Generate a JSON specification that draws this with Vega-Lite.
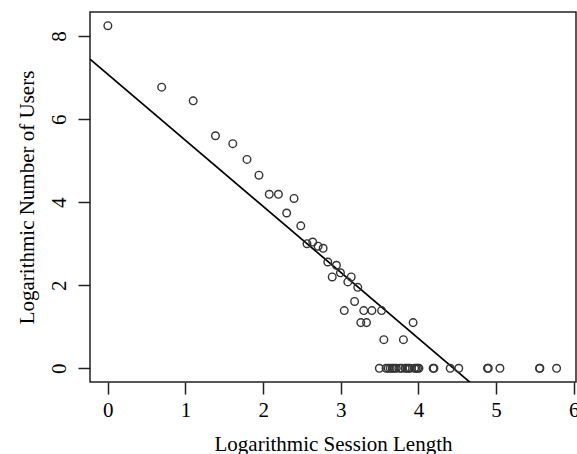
{
  "$schema": "https://vega.github.io/schema/vega-lite/v6.json",
  "autosize": {"type": "none"},
  "width": 486,
  "height": 370,
  "padding": {"left": 90, "top": 12, "right": 1, "bottom": 72},
  "background": "white",
  "config": {
    "view": {"stroke": "#222", "strokeWidth": 1.5},
    "font": "Liberation Serif",
    "axis": {
      "grid": false,
      "domain": false,
      "tickColor": "#222",
      "tickWidth": 1.5,
      "tickSize": 12,
      "labelFont": "Liberation Serif",
      "titleFont": "Liberation Serif",
      "labelFontSize": 21,
      "titleFontSize": 21,
      "labelColor": "black",
      "titleColor": "black",
      "titleFontWeight": "normal"
    }
  },
  "datasets": {
    "pts": [
      {"x": 0, "y": 8.25}, {"x": 0.693, "y": 6.77}, {"x": 1.099, "y": 6.44},
      {"x": 1.386, "y": 5.6}, {"x": 1.609, "y": 5.41}, {"x": 1.792, "y": 5.03},
      {"x": 1.946, "y": 4.65}, {"x": 2.079, "y": 4.19}, {"x": 2.197, "y": 4.19},
      {"x": 2.303, "y": 3.74}, {"x": 2.398, "y": 4.09}, {"x": 2.485, "y": 3.43},
      {"x": 2.565, "y": 3.0}, {"x": 2.639, "y": 3.04}, {"x": 2.708, "y": 2.94},
      {"x": 2.773, "y": 2.89}, {"x": 2.833, "y": 2.56}, {"x": 2.89, "y": 2.2},
      {"x": 2.944, "y": 2.48}, {"x": 2.996, "y": 2.3}, {"x": 3.045, "y": 1.39},
      {"x": 3.091, "y": 2.08}, {"x": 3.135, "y": 2.2}, {"x": 3.178, "y": 1.61},
      {"x": 3.219, "y": 1.95}, {"x": 3.258, "y": 1.1}, {"x": 3.296, "y": 1.39},
      {"x": 3.332, "y": 1.1}, {"x": 3.401, "y": 1.39}, {"x": 3.526, "y": 1.39},
      {"x": 3.555, "y": 0.69}, {"x": 3.807, "y": 0.69}, {"x": 3.932, "y": 1.1},
      {"x": 3.497, "y": 0}, {"x": 3.584, "y": 0}, {"x": 3.611, "y": 0},
      {"x": 3.638, "y": 0}, {"x": 3.664, "y": 0}, {"x": 3.689, "y": 0},
      {"x": 3.714, "y": 0}, {"x": 3.761, "y": 0}, {"x": 3.784, "y": 0},
      {"x": 3.829, "y": 0}, {"x": 3.85, "y": 0}, {"x": 3.871, "y": 0},
      {"x": 3.892, "y": 0}, {"x": 3.951, "y": 0}, {"x": 3.97, "y": 0},
      {"x": 3.989, "y": 0}, {"x": 4.007, "y": 0}, {"x": 4.19, "y": 0},
      {"x": 4.2, "y": 0}, {"x": 4.41, "y": 0}, {"x": 4.52, "y": 0},
      {"x": 4.89, "y": 0}, {"x": 4.9, "y": 0}, {"x": 5.05, "y": 0},
      {"x": 5.56, "y": 0}, {"x": 5.565, "y": 0}, {"x": 5.78, "y": 0}
    ],
    "fit": [
      {"x": -0.23, "y": 7.446},
      {"x": 6.03, "y": -2.508}
    ]
  },
  "layer": [
    {
      "data": {"name": "fit"},
      "mark": {"type": "line", "color": "black", "strokeWidth": 1.7, "clip": true},
      "encoding": {
        "x": {"field": "x", "type": "quantitative"},
        "y": {"field": "y", "type": "quantitative"}
      }
    },
    {
      "data": {"name": "pts"},
      "mark": {"type": "point", "shape": "circle", "filled": false, "stroke": "#333", "strokeWidth": 1.4, "size": 58, "opacity": 1},
      "encoding": {
        "x": {
          "field": "x", "type": "quantitative",
          "scale": {"domain": [-0.23, 6.03], "nice": false, "zero": false},
          "axis": {"values": [0, 1, 2, 3, 4, 5, 6], "format": "d", "title": "Logarithmic Session Length", "labelPadding": 5, "titlePadding": 13, "labelFlush": false}
        },
        "y": {
          "field": "y", "type": "quantitative",
          "scale": {"domain": [-0.33, 8.58], "nice": false, "zero": false},
          "axis": {"values": [0, 2, 4, 6, 8], "format": "d", "title": "Logarithmic Number of Users", "labelAngle": -90, "labelPadding": 9, "titlePadding": 11, "labelFlush": false}
        }
      }
    }
  ]
}
